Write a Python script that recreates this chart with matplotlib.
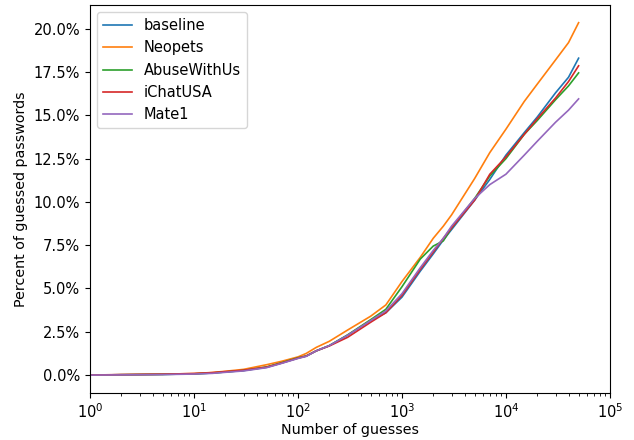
import numpy as np
import matplotlib
matplotlib.use('Agg')
import matplotlib.pyplot as plt
from matplotlib.ticker import PercentFormatter

# guess counts where each curve was sampled
guesses = [1, 2, 5, 10, 15, 20, 30, 50, 70, 100, 120, 150, 200, 300, 500,
           700, 1000, 1500, 2000, 2500, 3000, 5000, 7000, 10000, 15000,
           20000, 30000, 40000, 50000]

# percent of passwords guessed at each count
baseline = [0.0, 0.02, 0.04, 0.07, 0.12, 0.18, 0.26, 0.45, 0.70, 0.98, 1.10,
            1.40, 1.70, 2.30, 3.15, 3.60, 4.50, 6.00, 7.00, 7.80, 8.40, 10.10,
            11.30, 12.70, 14.00, 14.90, 16.30, 17.20, 18.30]
neopets = [0.0, 0.02, 0.05, 0.09, 0.15, 0.22, 0.33, 0.60, 0.80, 1.05, 1.25,
           1.60, 1.95, 2.60, 3.40, 4.05, 5.40, 6.80, 7.90, 8.60, 9.25, 11.35,
           12.85, 14.20, 15.80, 16.80, 18.20, 19.20, 20.35]
abusewithus = [0.0, 0.02, 0.04, 0.07, 0.12, 0.18, 0.27, 0.47, 0.72, 1.00,
               1.10, 1.40, 1.70, 2.32, 3.20, 3.80, 5.10, 6.70, 7.45, 7.75,
               8.50, 10.20, 11.50, 12.50, 13.90, 14.70, 15.90, 16.70, 17.45]
ichatusa = [0.0, 0.03, 0.05, 0.09, 0.14, 0.20, 0.28, 0.46, 0.70, 0.98, 1.10,
            1.40, 1.68, 2.18, 3.05, 3.60, 4.60, 6.10, 7.10, 7.90, 8.50, 10.10,
            11.60, 12.60, 13.90, 14.80, 16.00, 16.95, 17.86]
mate1 = [0.0, 0.01, 0.03, 0.06, 0.10, 0.16, 0.24, 0.43, 0.68, 0.96, 1.08,
         1.40, 1.70, 2.30, 3.15, 3.70, 4.70, 6.20, 7.20, 7.90, 8.60, 10.20,
         11.00, 11.60, 12.70, 13.50, 14.60, 15.30, 15.95]

series = [('baseline', baseline), ('Neopets', neopets),
          ('AbuseWithUs', abusewithus), ('iChatUSA', ichatusa),
          ('Mate1', mate1)]

fig = plt.figure(figsize=(6.34, 4.40), dpi=100)
ax = fig.add_axes([0.142, 0.1075, 0.820, 0.881])

for name, vals in series:
    ax.plot(guesses, vals, label=name, linewidth=1.2)

ax.set_xscale('log')
ax.set_xlim(1, 1e5)
ax.yaxis.set_major_formatter(PercentFormatter(xmax=100, decimals=1))
ax.tick_params(labelsize=10.5)
ax.set_xlabel('Number of guesses', fontsize=10.3, labelpad=1)
ax.set_ylabel('Percent of guessed passwords', fontsize=10.3)
ax.legend(loc='upper left', fontsize=10.5)

fig.savefig('out.png', dpi=100)
